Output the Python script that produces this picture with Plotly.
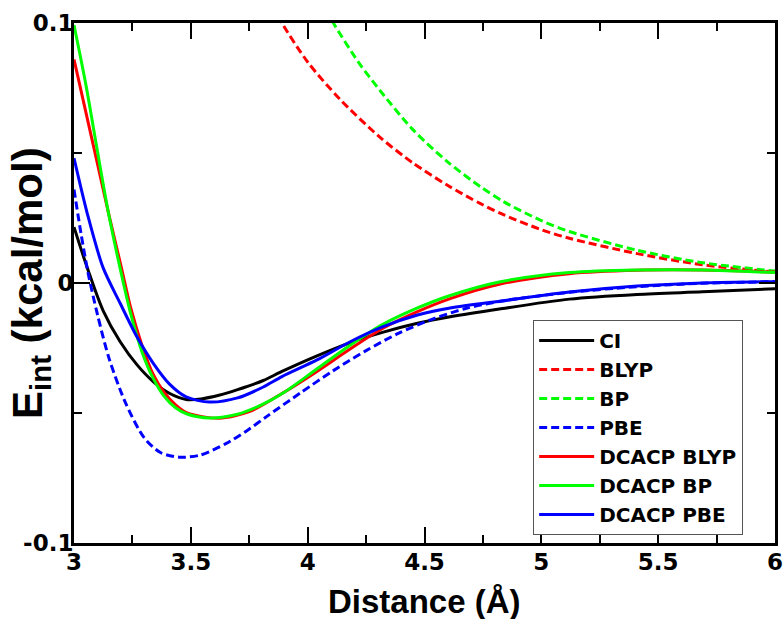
import plotly.graph_objects as go

# ---- data ----
ci_x = [3.0, 3.06, 3.124, 3.197, 3.27, 3.34, 3.41, 3.48, 3.55, 3.62, 3.70, 3.81, 3.89, 4.04, 4.18, 4.32, 4.47, 4.61, 4.82, 5.12, 5.41, 5.69, 6.0]
ci_y = [0.0215, 0.005, -0.0105, -0.0225, -0.0315, -0.038, -0.0425, -0.0448, -0.0445, -0.0432, -0.041, -0.0375, -0.034, -0.028, -0.023, -0.019, -0.0155, -0.013, -0.010, -0.0062, -0.0044, -0.0034, -0.0022]

blyp_x = [3.85, 3.89, 4.0, 4.14, 4.31, 4.45, 4.60, 4.74, 4.84, 5.0, 5.12, 5.41, 5.69, 6.0]
blyp_y = [0.107, 0.100, 0.085, 0.0705, 0.056, 0.0462, 0.0375, 0.0305, 0.0262, 0.0205, 0.0172, 0.0113, 0.0070, 0.0042]

bp_x = [4.08, 4.11, 4.22, 4.31, 4.45, 4.60, 4.74, 4.84, 5.0, 5.12, 5.41, 5.69, 6.0]
bp_y = [0.105, 0.100, 0.0846, 0.074, 0.059, 0.0465, 0.037, 0.0312, 0.024, 0.0198, 0.0126, 0.0078, 0.0046]

pbe_x = [3.0, 3.03, 3.06, 3.10, 3.15, 3.22, 3.30, 3.37, 3.45, 3.54, 3.65, 3.74, 3.83, 3.97, 4.11, 4.25, 4.39, 4.54, 4.68, 4.84, 5.12, 5.41, 5.69, 6.0]
pbe_y = [0.036, 0.019, 0.004, -0.012, -0.029, -0.046, -0.0595, -0.0652, -0.067, -0.0662, -0.0618, -0.0568, -0.051, -0.0422, -0.0337, -0.026, -0.0193, -0.0137, -0.0097, -0.0068, -0.0036, -0.0014, -0.0001, 0.0005]

dblyp_x = [3.0, 3.05, 3.10, 3.15, 3.20, 3.244, 3.291, 3.338, 3.385, 3.436, 3.484, 3.62, 3.75, 3.89, 4.04, 4.18, 4.32, 4.47, 4.61, 4.82, 5.12, 5.41, 5.69, 6.0]
dblyp_y = [0.086, 0.066, 0.046, 0.026, 0.007, -0.010, -0.024, -0.035, -0.042, -0.047, -0.050, -0.052, -0.0495, -0.0425, -0.034, -0.0255, -0.0175, -0.011, -0.006, -0.0005, 0.0036, 0.0049, 0.0050, 0.0042]

dbp_x = [3.0, 3.051, 3.098, 3.145, 3.197, 3.244, 3.291, 3.338, 3.385, 3.436, 3.484, 3.58, 3.70, 3.80, 3.90, 4.04, 4.18, 4.32, 4.47, 4.61, 4.82, 5.12, 5.41, 5.69, 6.0]
dbp_y = [0.0992, 0.0762, 0.0519, 0.0281, 0.0058, -0.0123, -0.0265, -0.0365, -0.0435, -0.0481, -0.0504, -0.0519, -0.0505, -0.047, -0.042, -0.033, -0.024, -0.016, -0.0096, -0.0048, 0.0004, 0.0040, 0.0050, 0.0050, 0.0040]

dpbe_x = [3.0, 3.056, 3.124, 3.197, 3.27, 3.34, 3.41, 3.48, 3.58, 3.70, 3.81, 3.89, 4.04, 4.18, 4.32, 4.47, 4.61, 4.84, 5.12, 5.41, 5.69, 6.0]
dpbe_y = [0.048, 0.027, 0.006, -0.0077, -0.0208, -0.031, -0.039, -0.0438, -0.0458, -0.0442, -0.040, -0.036, -0.0296, -0.0227, -0.0169, -0.0123, -0.0096, -0.0068, -0.0035, -0.0012, 0.0, 0.0005]

x_ticks = [3, 3.5, 4, 4.5, 5, 5.5, 6]
x_ticktext = ["3", "3.5", "4", "4.5", "5", "5.5", "6"]
y_ticks = [-0.1, 0, 0.1]
y_ticktext = ["-0.1", "0", "0.1"]

RED, GREEN, BLUE = "#ff0000", "#00ff00", "#0000ff"
DASH = "8px,4px"

series = [
    ("CI", ci_x, ci_y, "black", "solid"),
    ("BLYP", blyp_x, blyp_y, RED, DASH),
    ("BP", bp_x, bp_y, GREEN, DASH),
    ("PBE", pbe_x, pbe_y, BLUE, DASH),
    ("DCACP BLYP", dblyp_x, dblyp_y, RED, "solid"),
    ("DCACP BP", dbp_x, dbp_y, GREEN, "solid"),
    ("DCACP PBE", dpbe_x, dpbe_y, BLUE, "solid"),
]

fig = go.Figure()
for name, xs, ys, col, dash in series:
    fig.add_trace(go.Scatter(
        x=xs, y=ys, name=name, mode="lines",
        line=dict(color=col, width=3, dash=dash, shape="spline", smoothing=0.8),
    ))

TICKFONT = dict(family="DejaVu Sans", size=23, color="black", weight="bold")
axis_common = dict(
    showline=True, linecolor="black", linewidth=3, mirror="ticks",
    ticks="inside", ticklen=16, tickwidth=2, tickcolor="black",
    showgrid=False, zeroline=False, tickfont=TICKFONT,
)

fig.update_xaxes(
    range=[3, 6], tickmode="array", tickvals=x_ticks, ticktext=x_ticktext,
    ticklabelstandoff=-4,
    minor=dict(tickmode="linear", tick0=3, dtick=0.25, ticks="inside", ticklen=8, tickwidth=2, tickcolor="black"),
    **axis_common,
)
fig.update_yaxes(
    range=[-0.1, 0.1], tickmode="array", tickvals=y_ticks, ticktext=y_ticktext,
    ticklabelstandoff=-7,
    minor=dict(tickmode="linear", tick0=0, dtick=0.05, ticks="inside", ticklen=8, tickwidth=2, tickcolor="black"),
    **axis_common,
)

TITLEFONT = dict(family="Liberation Sans", color="black", weight="bold")
fig.add_annotation(
    text="Distance (Å)", xref="paper", yref="paper", x=0.5, y=0, yshift=-58,
    xanchor="center", yanchor="middle", showarrow=False, font=dict(size=33, **TITLEFONT),
)
fig.add_annotation(
    text="E<sub>int</sub> (kcal/mol)", xref="paper", yref="paper", x=0, y=0.5, xshift=-44,
    xanchor="center", yanchor="middle", textangle=-90, showarrow=False, font=dict(size=42, **TITLEFONT),
)

fig.update_layout(
    width=784, height=619,
    margin=dict(l=74, r=9, t=23, b=76, autoexpand=False),
    paper_bgcolor="white", plot_bgcolor="white",
    showlegend=True,
    legend=dict(
        x=0.655, y=0.0154, xanchor="left", yanchor="bottom",
        bgcolor="white", bordercolor="#555555", borderwidth=1,
        font=dict(family="DejaVu Sans", size=20, color="black", weight="bold"),
        itemwidth=55, tracegroupgap=0,
    ),
)

fig.write_html("out.html", config={"displayModeBar": False},
               post_script="document.body.style.margin='0';")
